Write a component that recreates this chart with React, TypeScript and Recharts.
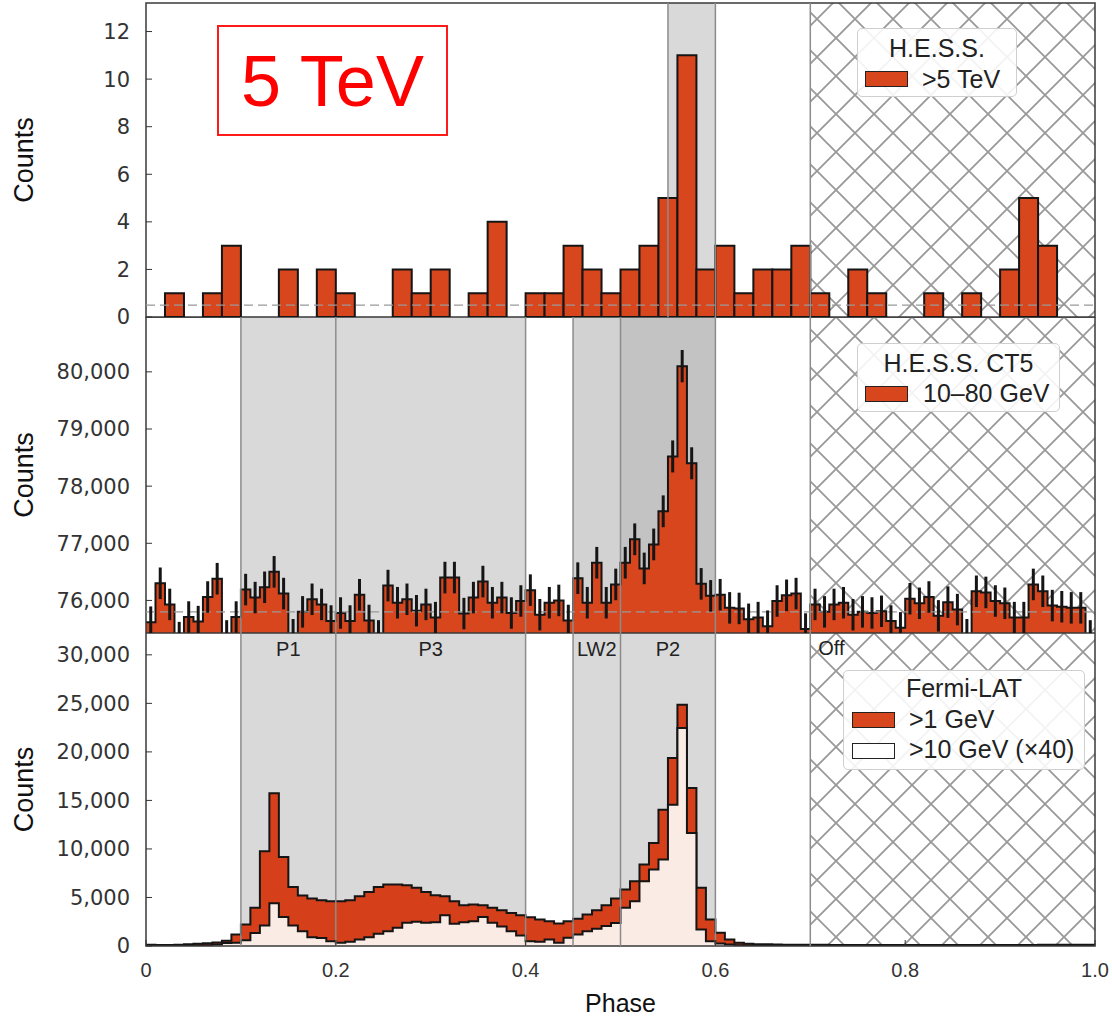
import React from 'react'
import {
  ComposedChart,
  Bar,
  Area,
  Scatter,
  ErrorBar,
  XAxis,
  YAxis,
  ReferenceArea,
  ReferenceLine,
} from 'recharts'

// H.E.S.S. >5 TeV, 50 bins of 0.02 in phase
const hessBins = [
  0, 1, 0, 1, 3, 0, 0, 2, 0, 2,
  1, 0, 0, 2, 1, 2, 0, 1, 4, 0,
  1, 1, 3, 2, 1, 2, 3, 5, 11, 2,
  3, 1, 2, 2, 3, 1, 0, 2, 1, 0,
  0, 1, 0, 1, 0, 2, 5, 3, 0, 0,
]

// H.E.S.S. CT5 10-80 GeV, 100 bins of 0.01
const ct5Bins = [
  75620, 76300, 75930, 75350, 75710, 75630, 76060, 76380, 75380, 75710,
  76190, 76050, 76230, 76500, 76120, 75400, 75800, 76020, 75930, 75640,
  75780, 75640, 76100, 75650, 75380, 76260, 75960, 76020, 75820, 75930,
  75700, 76400, 76400, 75770, 76050, 76330, 75960, 76050, 75780, 75990,
  76180, 75750, 75960, 76000, 75650, 76390, 75960, 76660, 75960, 76280,
  76660, 77070, 76560, 76980, 77560, 78520, 80100, 78400, 76290, 76080,
  76100, 75870, 75860, 75670, 75700, 75550, 75990, 76090, 76120, 75500,
  75930, 75800, 75930, 75960, 75750, 75800, 75780, 75810, 75640, 75520,
  76030, 75950, 76060, 75730, 75970, 75840, 75400, 76160, 76140, 75990,
  75950, 75700, 75700, 76280, 76160, 75910, 75890, 75870, 75870, 75380,
]

// Fermi-LAT >1 GeV, 100 bins of 0.01
const fermi1Bins = [
  120, 100, 110, 130, 170, 220, 280, 350, 550, 1180,
  2210, 3930, 9760, 15750, 9180, 6090, 5200, 4890, 4720, 4610,
  4610, 4720, 5130, 5570, 6090, 6330, 6330, 6260, 5990, 5570,
  5230, 5130, 4610, 4200, 4270, 4200, 3930, 3690, 3410, 3170,
  2970, 2730, 2560, 2320, 2560, 2800, 3240, 3690, 4200, 4900,
  5810, 6670, 8390, 10620, 14050, 19360, 24850, 16280, 5990, 2730,
  1360, 670, 330, 230, 190, 170, 150, 140, 130, 130,
  120, 120, 110, 110, 110, 110, 100, 100, 100, 100,
  100, 100, 100, 100, 100, 100, 100, 100, 100, 110,
  110, 110, 110, 110, 120, 120, 120, 120, 120, 120,
]

// Fermi-LAT >10 GeV (x40), 100 bins of 0.01
const fermi10Bins = [
  0, 0, 0, 0, 20, 40, 80, 150, 300, 330,
  600, 1350, 2100, 4400, 3000, 2100, 1530, 900, 830, 500,
  330, 430, 670, 900, 1250, 1530, 1870, 2400, 2500, 2400,
  2450, 3170, 2300, 2450, 2550, 3000, 2400, 2000, 1530, 1080,
  500, 430, 670, 330, 840, 1180, 1530, 1770, 2050, 2380,
  3930, 4610, 6670, 7870, 8900, 14560, 22450, 11650, 1700, 500,
  260, 150, 80, 50, 40, 30, 30, 20, 20, 20,
  20, 20, 20, 20, 20, 20, 20, 20, 20, 20,
  20, 20, 20, 20, 20, 20, 20, 20, 20, 20,
  20, 20, 20, 20, 20, 20, 20, 20, 20, 20,
]

const phaseTicks = [0, 0.2, 0.4, 0.6, 0.8, 1.0]
const hessTicks = [0, 2, 4, 6, 8, 10, 12]
const ct5Ticks = [76000, 77000, 78000, 79000, 80000]
const fermiTicks = [0, 5000, 10000, 15000, 20000, 25000, 30000]

const hessDomain = [0, 13.2]
const ct5Domain = [75430, 80960]
const fermiDomain = [0, 32250]

const hessBackground = 0.5
const ct5Background = 75800

const regions = [
  { name: 'P1', from: 0.1, to: 0.2 },
  { name: 'P3', from: 0.2, to: 0.4 },
  { name: 'LW2', from: 0.45, to: 0.5 },
  { name: 'P2', from: 0.5, to: 0.6 },
]
const hessOn = { from: 0.55, to: 0.6 }
const offRegion = { name: 'Off', from: 0.7, to: 1.0 }

const hessData = hessBins.map((n, i) => ({ phase: (i + 0.5) * 0.02, n }))
const ct5Edges = [
  ...ct5Bins.map((v, i) => ({ phase: i / 100, v })),
  { phase: 1, v: ct5Bins[ct5Bins.length - 1] },
]
const ct5Points = ct5Bins.map((v, i) => ({ phase: (i + 0.5) / 100, v, err: Math.sqrt(v) }))
const fermiEdges = [
  ...fermi1Bins.map((hi, i) => ({ phase: i / 100, hi, lo: fermi10Bins[i] })),
  { phase: 1, hi: fermi1Bins[99], lo: fermi10Bins[99] },
]

const RED = '#d8461e'
const EDGE = '#151515'
const GRAY = '#d9d9d9'
const LINE_GRAY = '#8c8c8c'
const FRAME = '#3a3a3a'

const yTick = { fontFamily: 'DejaVu Sans', fontSize: 21, fill: '#333' }
const xTick = { fontFamily: 'Liberation Sans', fontSize: 20, fill: '#333' }
const countsLabel = {
  value: 'Counts',
  angle: -90,
  position: 'insideLeft',
  offset: 23,
  style: {
    textAnchor: 'middle',
    fontFamily: 'Liberation Sans',
    fontSize: 27,
    fill: '#111',
  },
}
const regionLabel = { fontFamily: 'Liberation Sans', fontSize: 20, fill: '#222' }

const fmtCount = (v: number) => v.toLocaleString('en-US')
const fmtPhase = (v: number) => (v === 0 ? '0' : v.toFixed(1))

const hatch = (id: string) => (
  <defs>
    <pattern id={id} patternUnits="userSpaceOnUse" width={38} height={38}>
      <path d="M0,0 L38,38 M38,0 L0,38" stroke="#999" strokeWidth={1.8} />
    </pattern>
  </defs>
)

const yAxisProps = {
  type: 'number' as const,
  width: 146,
  interval: 0 as const,
  tickSize: -6,
  tickMargin: 22,
  axisLine: false,
  tickLine: { stroke: '#333' },
  tick: yTick,
  tickFormatter: fmtCount,
  allowDataOverflow: true,
  label: countsLabel,
}

const legendBox: React.CSSProperties = {
  position: 'absolute',
  border: '1.5px solid #cfcfcf',
  borderRadius: 5,
  background: 'rgba(255,255,255,0.88)',
  fontFamily: 'Liberation Sans',
  fontSize: 25,
  color: '#222',
  boxSizing: 'border-box',
}

const Swatch = ({ top, left, fill }: { top: number; left: number; fill: string }) => (
  <div
    style={{
      position: 'absolute',
      top,
      left,
      width: 43,
      height: 16,
      background: fill,
      border: '1.5px solid #222',
      boxSizing: 'border-box',
    }}
  />
)

const Row = ({ top, left, text }: { top: number; left: number; text: string }) => (
  <div style={{ position: 'absolute', top, left, lineHeight: '26px', whiteSpace: 'nowrap' }}>{text}</div>
)

const Title = ({ top, text }: { top: number; text: string }) => (
  <div style={{ position: 'absolute', top, left: 0, right: 0, textAlign: 'center', lineHeight: '26px' }}>
    {text}
  </div>
)

export default function App() {
  return (
    <div style={{ position: 'absolute', left: 0, top: 0, width: 1112, height: 1023, background: '#fff' }}>
      {/* top: H.E.S.S. >5 TeV */}
      <div style={{ position: 'absolute', left: 0, top: 0 }}>
        <ComposedChart width={1112} height={332} data={hessData} margin={{ top: 3, right: 17, bottom: 15, left: 0 }} barCategoryGap={0} barGap={0}>
          {hatch('hatch1')}
          <XAxis type="number" dataKey="phase" domain={[0, 1]} hide allowDataOverflow />
          <YAxis {...yAxisProps} domain={hessDomain} ticks={hessTicks} />
          <ReferenceArea x1={hessOn.from} x2={hessOn.to} fill={GRAY} fillOpacity={1} />
          <ReferenceArea x1={offRegion.from} x2={offRegion.to} fill="url(#hatch1)" fillOpacity={1} />
          <ReferenceLine x={hessOn.from} stroke={LINE_GRAY} strokeWidth={1.5} />
          <ReferenceLine x={hessOn.to} stroke={LINE_GRAY} strokeWidth={1.5} />
          <ReferenceLine x={offRegion.from} stroke={LINE_GRAY} strokeWidth={1.5} />
          <Bar dataKey="n" fill={RED} stroke={EDGE} strokeWidth={2} isAnimationActive={false} />
          <ReferenceLine y={hessBackground} stroke="#999" strokeDasharray="9 5" strokeWidth={1.3} />
          <ReferenceArea x1={0} x2={1} y1={hessDomain[0]} y2={hessDomain[1]} fill="none" stroke={FRAME} strokeWidth={1.5} />
        </ComposedChart>
      </div>

      {/* middle: H.E.S.S. CT5 10-80 GeV */}
      <div style={{ position: 'absolute', left: 0, top: 317 }}>
        <ComposedChart width={1112} height={316} margin={{ top: 0, right: 17, bottom: 0, left: 0 }}>
          {hatch('hatch2')}
          <XAxis type="number" dataKey="phase" domain={[0, 1]} hide allowDataOverflow />
          <YAxis {...yAxisProps} domain={ct5Domain} ticks={ct5Ticks} />
          <ReferenceArea x1={0.1} x2={0.4} fill={GRAY} fillOpacity={1} />
          <ReferenceArea x1={0.45} x2={0.5} fill="#d2d2d2" fillOpacity={1} />
          <ReferenceArea x1={0.5} x2={0.6} fill="#c3c3c3" fillOpacity={1} />
          <ReferenceArea x1={offRegion.from} x2={offRegion.to} fill="url(#hatch2)" fillOpacity={1} />
          {[0.1, 0.2, 0.4, 0.45, 0.5, 0.6, 0.7].map((x) => (
            <ReferenceLine key={x} x={x} stroke={LINE_GRAY} strokeWidth={1.5} />
          ))}
          <Area
            data={ct5Edges}
            dataKey="v"
            type="stepAfter"
            baseValue={ct5Domain[0]}
            fill={RED}
            fillOpacity={1}
            stroke={EDGE}
            strokeWidth={2}
            isAnimationActive={false}
          />
          <ReferenceLine y={ct5Background} stroke="#999" strokeDasharray="9 5" strokeWidth={1.3} />
          <Scatter data={ct5Points} dataKey="v" shape={() => <g />} isAnimationActive={false}>
            <ErrorBar dataKey="err" direction="y" width={0} stroke={EDGE} strokeWidth={3} isAnimationActive={false} />
          </Scatter>
          <ReferenceArea x1={0} x2={1} y1={ct5Domain[0]} y2={ct5Domain[1]} fill="none" stroke={FRAME} strokeWidth={1.5} />
        </ComposedChart>
      </div>

      {/* bottom: Fermi-LAT */}
      <div style={{ position: 'absolute', left: 0, top: 633 }}>
        <ComposedChart width={1112} height={390} margin={{ top: 0, right: 17, bottom: 0, left: 0 }}>
          {hatch('hatch3')}
          <XAxis
            type="number"
            dataKey="phase"
            domain={[0, 1]}
            ticks={phaseTicks}
            interval={0}
            height={77}
            tickSize={-6}
            tickMargin={23}
            tickFormatter={fmtPhase}
            tick={xTick}
            axisLine={false}
            tickLine={{ stroke: '#333' }}
            allowDataOverflow
            label={{
              value: 'Phase',
              position: 'insideBottom',
              offset: 11,
              style: { fontFamily: 'Liberation Sans', fontSize: 25, fill: '#111' },
            }}
          />
          <YAxis {...yAxisProps} domain={fermiDomain} ticks={fermiTicks} />
          {regions.map((r) => (
            <ReferenceArea
              key={r.name}
              x1={r.from}
              x2={r.to}
              fill={GRAY}
              fillOpacity={1}
              label={{ value: r.name, position: 'insideTop', offset: 9, style: regionLabel }}
            />
          ))}
          <ReferenceArea
            x1={offRegion.from}
            x2={offRegion.to}
            fill="url(#hatch3)"
            fillOpacity={1}
            label={{ value: offRegion.name, position: 'insideTopLeft', offset: 8, style: regionLabel }}
          />
          {[0.1, 0.2, 0.4, 0.45, 0.5, 0.6, 0.7].map((x) => (
            <ReferenceLine key={x} x={x} stroke={LINE_GRAY} strokeWidth={1.5} />
          ))}
          <Area
            data={fermiEdges}
            dataKey="hi"
            type="stepAfter"
            baseValue={0}
            fill="#d5401a"
            fillOpacity={1}
            stroke={EDGE}
            strokeWidth={2}
            isAnimationActive={false}
          />
          <Area
            data={fermiEdges}
            dataKey="lo"
            type="stepAfter"
            baseValue={0}
            fill="#fbebe5"
            fillOpacity={1}
            stroke={EDGE}
            strokeWidth={2}
            isAnimationActive={false}
          />
          <ReferenceArea x1={0} x2={1} y1={fermiDomain[0]} y2={fermiDomain[1]} fill="none" stroke={FRAME} strokeWidth={1.5} />
        </ComposedChart>
      </div>

      {/* 5 TeV tag */}
      <div
        style={{
          position: 'absolute',
          left: 217,
          top: 25,
          width: 231,
          height: 111,
          border: '2px solid #ff1a1a',
          boxSizing: 'border-box',
          display: 'flex',
          alignItems: 'center',
          justifyContent: 'center',
          fontFamily: 'Liberation Sans',
          fontSize: 72,
          color: '#ff0000',
          lineHeight: 1,
        }}
      >
        5 TeV
      </div>

      {/* legends */}
      <div style={{ ...legendBox, left: 857, top: 28, width: 160, height: 69 }}>
        <Title top={6} text="H.E.S.S." />
        <Swatch top={42} left={7} fill={RED} />
        <Row top={37} left={64} text=">5 TeV" />
      </div>
      <div style={{ ...legendBox, left: 857, top: 343, width: 203, height: 69 }}>
        <Title top={6} text="H.E.S.S. CT5" />
        <Swatch top={42} left={7} fill={RED} />
        <Row top={36} left={65} text="10–80 GeV" />
      </div>
      <div style={{ ...legendBox, left: 843, top: 670, width: 242, height: 100 }}>
        <Title top={4} text="Fermi-LAT" />
        <Swatch top={41} left={8} fill={RED} />
        <Row top={35} left={65} text=">1 GeV" />
        <Swatch top={72} left={8} fill="#fff" />
        <Row top={65} left={65} text=">10 GeV (×40)" />
      </div>
    </div>
  )
}
